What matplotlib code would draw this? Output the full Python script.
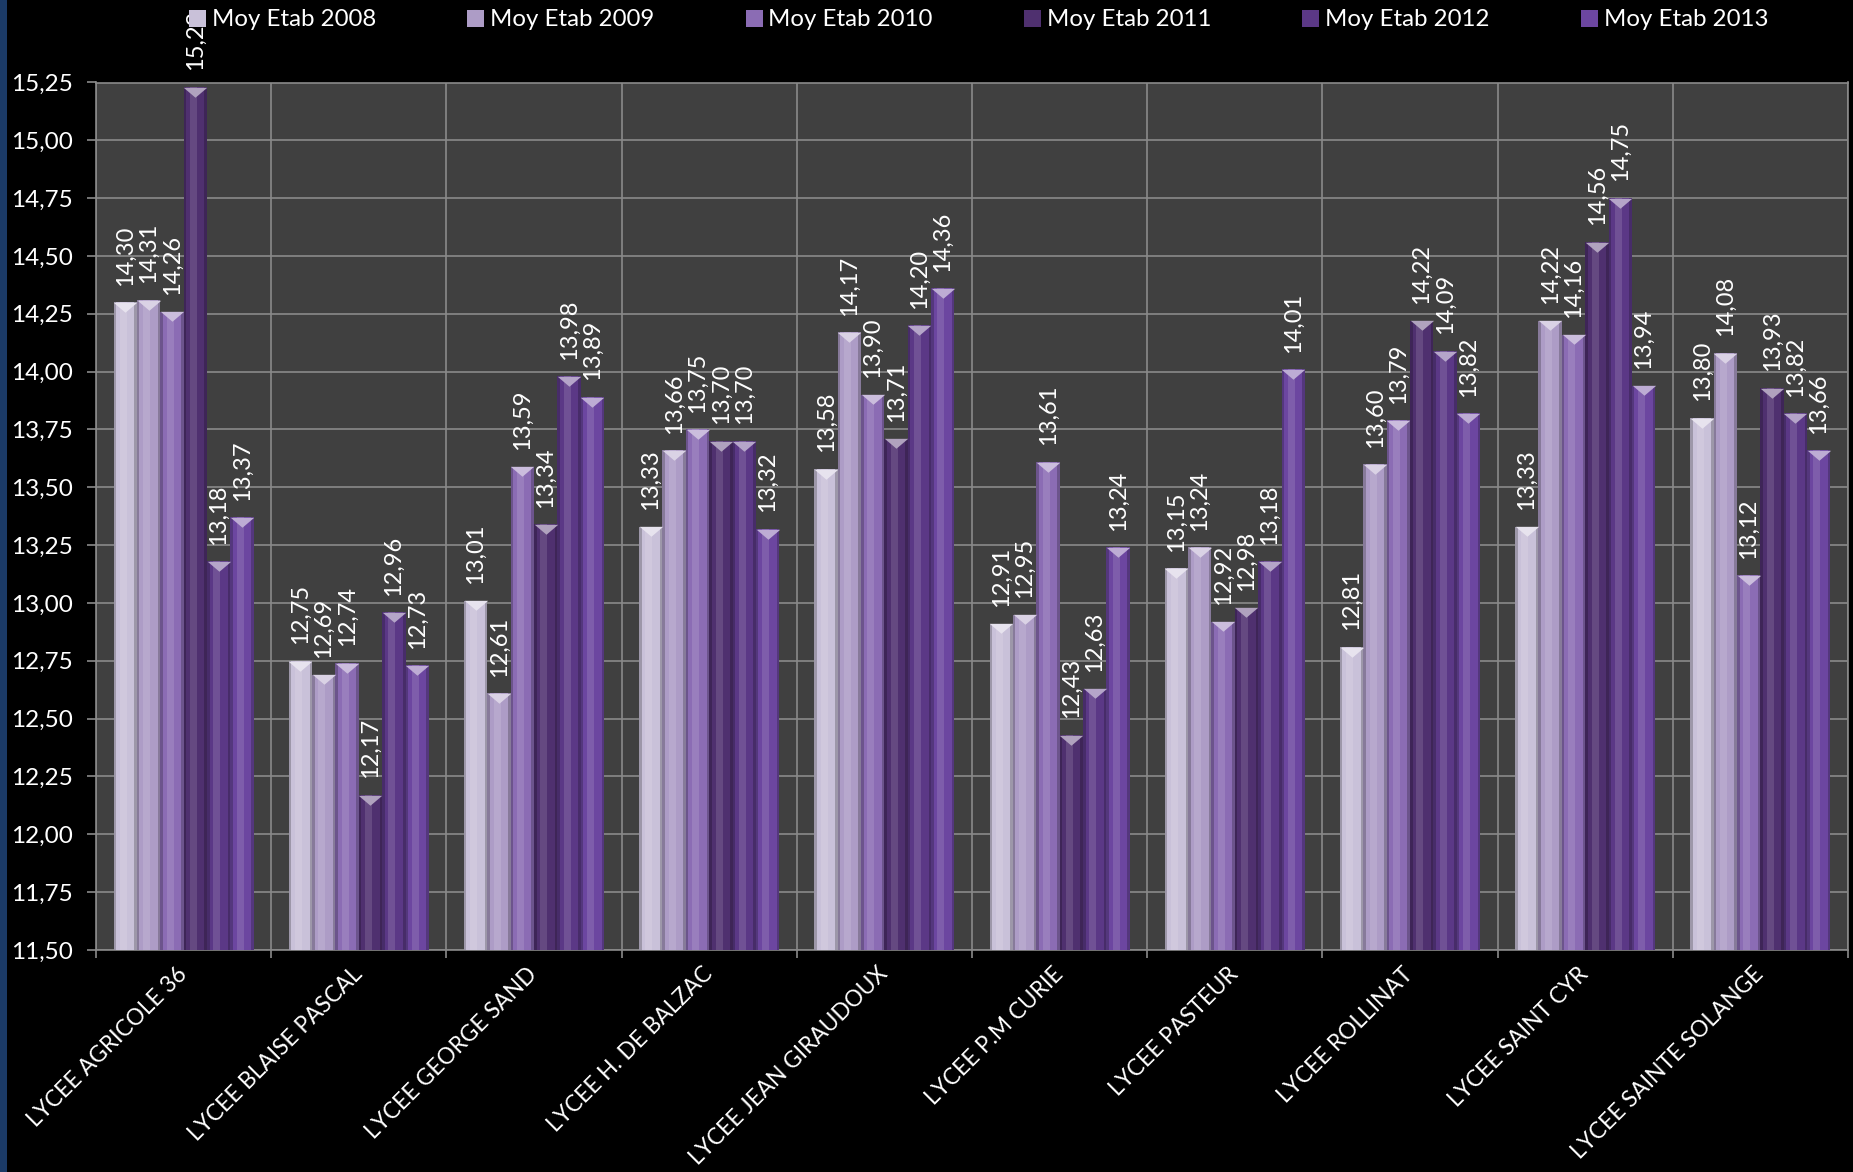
import matplotlib
matplotlib.use("Agg")
import matplotlib.pyplot as plt
import numpy as np
from matplotlib.patches import Rectangle, Patch
from matplotlib.ticker import FuncFormatter, MultipleLocator, FixedLocator
import matplotlib.transforms as mtransforms
from matplotlib.colors import to_rgb

plt.rcParams['font.family'] = ['Lato', 'DejaVu Sans']

categories = ["LYCEE AGRICOLE 36", "LYCEE BLAISE PASCAL", "LYCEE GEORGE SAND",
              "LYCEE H. DE BALZAC", "LYCEE JEAN GIRAUDOUX", "LYCEE P.M CURIE",
              "LYCEE PASTEUR", "LYCEE ROLLINAT", "LYCEE SAINT CYR",
              "LYCEE SAINTE SOLANGE"]
series_names = ["Moy Etab 2008", "Moy Etab 2009", "Moy Etab 2010",
                "Moy Etab 2011", "Moy Etab 2012", "Moy Etab 2013"]
v2008 = [14.30, 12.75, 13.01, 13.33, 13.58, 12.91, 13.15, 12.81, 13.33, 13.80]
v2009 = [14.31, 12.69, 12.61, 13.66, 14.17, 12.95, 13.24, 13.60, 14.22, 14.08]
v2010 = [14.26, 12.74, 13.59, 13.75, 13.90, 13.61, 12.92, 13.79, 14.16, 13.12]
v2011 = [15.23, 12.17, 13.34, 13.70, 13.71, 12.43, 12.98, 14.22, 14.56, 13.93]
v2012 = [13.18, 12.96, 13.98, 13.70, 14.20, 12.63, 13.18, 14.09, 14.75, 13.82]
v2013 = [13.37, 12.73, 13.89, 13.32, 14.36, 13.24, 14.01, 13.82, 13.94, 13.66]
series_values = [v2008, v2009, v2010, v2011, v2012, v2013]
series_colors = ["#c9c1d9", "#ad9cc6", "#8b6cb4", "#4f306f", "#5b3886", "#6c46a0"]

y_min, y_max, y_step = 11.50, 15.25, 0.25

FS = 17
XFS = 16.3
W, H = 1853, 1172
fig = plt.figure(figsize=(W / 100, H / 100), dpi=100, facecolor="black")
ax = fig.add_axes([96 / W, 1 - 950 / H, (1848 - 96) / W, (950 - 82.5) / H])
ax.set_facecolor("#404040")

# left blue strip
fig.patches.append(Rectangle((0, 0), 7 / W, 1, transform=fig.transFigure,
                             facecolor="#1b3a66", edgecolor="none", zorder=0))

n_series = len(series_values)
bw = 1 / (n_series + 1.5)
x = np.arange(len(categories))


def mix(c, other, t):
    c = np.array(to_rgb(c)); o = np.array(to_rgb(other))
    return tuple(c * (1 - t) + o * t)


cap_marker = [(-1, 1), (1, 1), (0, 0.15)]
bar_px = bw * (1752 / len(categories))
ms_pt = bar_px * 72 / 100
cap_trans = mtransforms.offset_copy(ax.transData, fig=fig, x=0, y=-ms_pt / 2, units='points')

for j, (name, vals, col) in enumerate(zip(series_names, series_values, series_colors)):
    xs = x + (j - (n_series - 1) / 2) * bw
    ax.bar(xs, vals, width=bw, color=mix(col, "black", 0.22), zorder=3, linewidth=0)
    ax.bar(xs, vals, width=bw * 0.78, color=col, zorder=3.1, linewidth=0)
    ax.bar(xs - bw * 0.08, vals, width=bw * 0.3, color=mix(col, "white", 0.18),
           zorder=3.2, linewidth=0, alpha=0.7)
    ax.plot(xs, vals, linestyle="none", marker=cap_marker, markersize=ms_pt,
            color=mix(col, "white", 0.55), markeredgewidth=0, transform=cap_trans,
            zorder=3.5)
    for xi, v in zip(xs, vals):
        ax.annotate(f"{v:.2f}".replace(".", ","), xy=(xi, v), xytext=(0, 12),
                    textcoords="offset points", rotation=90, ha="center", va="bottom",
                    color="white", fontsize=FS, annotation_clip=False, zorder=6)

ax.set_xlim(-0.5, len(categories) - 0.5)
ax.set_ylim(y_min, y_max)
ax.yaxis.set_major_locator(MultipleLocator(y_step))
ax.yaxis.set_major_formatter(FuncFormatter(lambda v, p: f"{v:.2f}".replace(".", ",")))
ax.set_xticks(x)
ax.set_xticklabels(categories, rotation=45, ha="right", va="center",
                   rotation_mode="anchor")
ax.xaxis.set_minor_locator(FixedLocator(np.arange(-0.5, len(categories) + 0.5, 1)))
ax.tick_params(axis="x", which="major", length=0, pad=15, labelsize=XFS, labelcolor="white")
ax.tick_params(axis="x", which="minor", length=6, width=1.2, color="#8a8a8a")
ax.tick_params(axis="y", which="major", length=6.5, width=1.2, color="#8a8a8a",
               pad=10, labelsize=FS + 0.5, labelcolor="white")
ax.grid(True, axis="y", which="major", color="#8a8a8a", linewidth=1.2, zorder=1)
ax.grid(True, axis="x", which="minor", color="#8a8a8a", linewidth=1.2, zorder=1)
ax.set_axisbelow(True)
for s in ax.spines.values():
    s.set_color("#8a8a8a")
    s.set_linewidth(1.2)

handles = [Patch(facecolor=c, edgecolor="none") for c in series_colors]
LFS = 17.3
fs_px = LFS * 100 / 72
leg = fig.legend(handles, series_names, loc="center left",
                 bbox_to_anchor=(189 / W, 1 - 20 / H), ncol=6, frameon=False,
                 fontsize=LFS, labelcolor="white", borderpad=0, borderaxespad=0,
                 handlelength=17 / fs_px, handleheight=17 / fs_px,
                 handletextpad=6 / fs_px, columnspacing=91 / fs_px)
leg.set_zorder(10)

fig.savefig("out.png", dpi=100, facecolor="black")
